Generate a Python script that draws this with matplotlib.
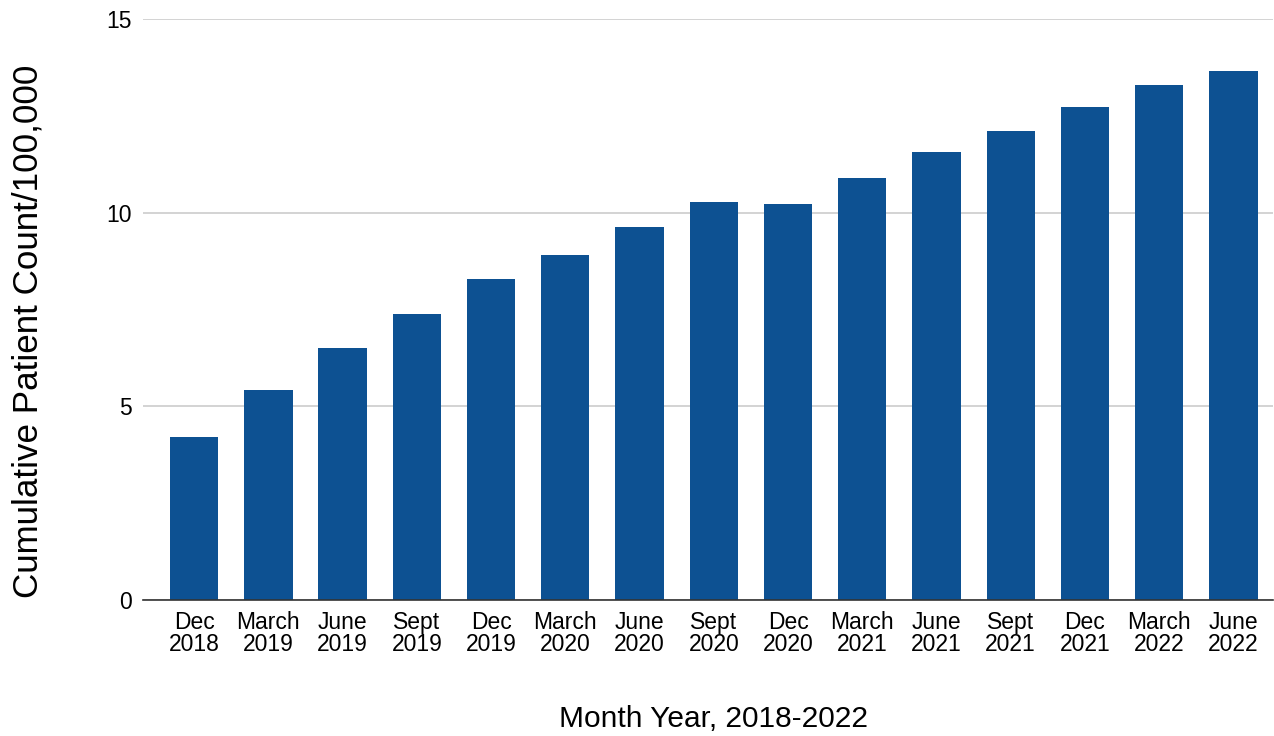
import matplotlib
matplotlib.use("Agg")
import matplotlib.pyplot as plt

plt.rcParams['font.family'] = ['Liberation Sans', 'DejaVu Sans']

# quarter labels and cumulative counts per 100,000
months = ["Dec\n2018", "March\n2019", "June\n2019", "Sept\n2019", "Dec\n2019",
          "March\n2020", "June\n2020", "Sept\n2020", "Dec\n2020", "March\n2021",
          "June\n2021", "Sept\n2021", "Dec\n2021", "March\n2022", "June\n2022"]
counts = [4.22, 5.43, 6.51, 7.38, 8.29, 8.91, 9.63, 10.28, 10.22, 10.90,
          11.57, 12.12, 12.73, 13.30, 13.65]

fig = plt.figure(figsize=(12.74, 7.36), dpi=100)
ax = fig.add_axes([0.1122, 0.1848, 0.8868, 0.7894])

x = range(len(months))
ax.bar(x, counts, width=0.65, color='#0d5192', zorder=3)

ax.set_ylim(0, 15)
ax.set_yticks([0, 5, 10, 15])
ax.set_xlim(-0.69, 14.53)
ax.set_xticks(list(x))
ax.set_xticklabels(months, fontsize=16.5, linespacing=0.95)
ax.tick_params(axis='y', labelsize=16.5, length=0, pad=8)
ax.tick_params(axis='x', length=0, pad=8)

ax.grid(axis='y', color='#cccccc', linewidth=1.2, zorder=0)
for side in ['top', 'right', 'left']:
    ax.spines[side].set_visible(False)
ax.spines['bottom'].set_color('#333333')
ax.spines['bottom'].set_linewidth(1.2)
ax.spines['bottom'].set_zorder(4)

ax.set_ylabel('Cumulative Patient Count/100,000', fontsize=25.2)
ax.yaxis.set_label_coords(-0.087, 0.462)
ax.set_xlabel('Month Year, 2018-2022', fontsize=21.5)
ax.xaxis.set_label_coords(0.505, -0.180)

fig.savefig('out.png', dpi=100)
